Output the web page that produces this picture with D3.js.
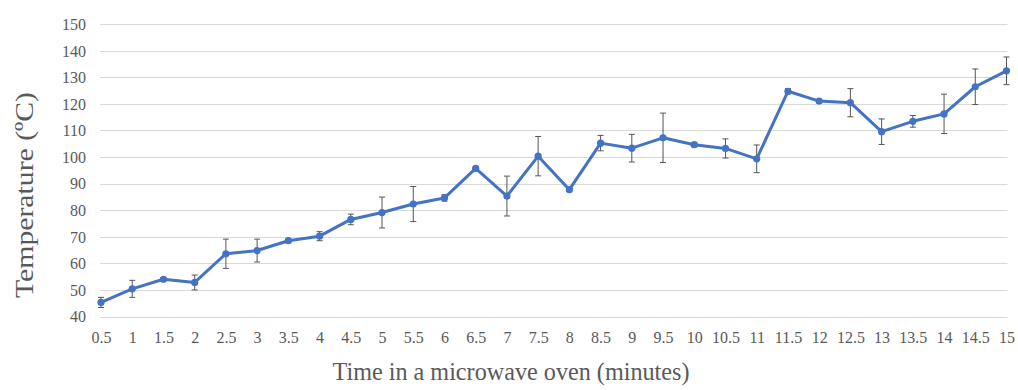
<!DOCTYPE html>
<html>
<head>
<meta charset="utf-8">
<script src="https://cdn.jsdelivr.net/npm/d3@7"></script>
<style>
  html, body { margin: 0; padding: 0; background: #fff; }
  svg { display: block; }
</style>
</head>
<body>
<svg id="chart" width="1018" height="390"></svg>
<script>
const timeLabels = ["0.5","1","1.5","2","2.5","3","3.5","4","4.5","5","5.5","6","6.5","7","7.5","8","8.5","9","9.5","10","10.5","11","11.5","12","12.5","13","13.5","14","14.5","15"];
const temperatures = [45.3, 50.4, 54.0, 52.8, 63.6, 64.8, 68.5, 70.2, 76.5, 79.1, 82.3, 84.6, 95.7, 85.3, 100.3, 87.7, 105.2, 103.3, 107.2, 104.6, 103.2, 99.3, 124.7, 121.0, 120.4, 109.5, 113.4, 116.2, 126.4, 132.4];
const errors = [1.9, 3.2, 0.6, 2.8, 5.5, 4.3, 0.7, 1.7, 2.0, 5.8, 6.6, 1.2, 0.5, 7.5, 7.4, 0.5, 2.9, 5.2, 9.3, 0.8, 3.6, 5.2, 1.0, 0.7, 5.3, 4.8, 2.2, 7.4, 6.7, 5.2];
const yTicks = [40, 50, 60, 70, 80, 90, 100, 110, 120, 130, 140, 150];
const xTitle = "Time in a microwave oven (minutes)";
const yTitle = "Temperature (ºC)";

const svg = d3.select("#chart");
const serif = "'Liberation Serif', 'Times New Roman', serif";
const textColor = "#595959";

const x = d3.scalePoint().domain(timeLabels).range([101, 1006.5]).padding(0);
const y = d3.scaleLinear().domain([40, 150]).range([316.5, 24]);

// gridlines
svg.append("g")
  .selectAll("line")
  .data(yTicks)
  .join("line")
  .attr("x1", 100).attr("x2", 1007.5)
  .attr("y1", d => Math.round(y(d)) + 0.5)
  .attr("y2", d => Math.round(y(d)) + 0.5)
  .attr("stroke", "#d9d9d9")
  .attr("stroke-width", 1);

// y axis labels
const yAxis = d3.axisLeft(y).tickValues(yTicks).tickSize(0).tickPadding(0);
const gy = svg.append("g").attr("transform", "translate(86,0)").call(yAxis);
gy.select(".domain").remove();
gy.selectAll("text")
  .attr("font-family", serif)
  .attr("font-size", 16)
  .attr("fill", textColor)
  .attr("dy", "0.34em");

// x axis labels
const xAxis = d3.axisBottom(x).tickSize(0).tickPadding(0);
const gx = svg.append("g").attr("transform", "translate(0,331)").call(xAxis);
gx.select(".domain").remove();
gx.selectAll("text")
  .attr("font-family", serif)
  .attr("font-size", 16)
  .attr("fill", textColor)
  .attr("dy", "0.75em");

const data = timeLabels.map((t, i) => ({ t, v: temperatures[i], e: errors[i] }));

// error bars
const eb = svg.append("g").attr("stroke", "#555").attr("stroke-width", 1).attr("fill", "none");
data.forEach(d => {
  const cx = x(d.t);
  const y1 = y(d.v + d.e), y2 = y(d.v - d.e);
  eb.append("line").attr("x1", cx).attr("x2", cx).attr("y1", y1).attr("y2", y2);
  eb.append("line").attr("x1", cx - 3).attr("x2", cx + 3).attr("y1", y1).attr("y2", y1);
  eb.append("line").attr("x1", cx - 3).attr("x2", cx + 3).attr("y1", y2).attr("y2", y2);
});

// line
const line = d3.line().x(d => x(d.t)).y(d => y(d.v));
svg.append("path")
  .datum(data)
  .attr("d", line)
  .attr("fill", "none")
  .attr("stroke", "#4472C4")
  .attr("stroke-width", 3)
  .attr("stroke-linejoin", "round");

// markers
svg.append("g")
  .selectAll("circle")
  .data(data)
  .join("circle")
  .attr("cx", d => x(d.t))
  .attr("cy", d => y(d.v))
  .attr("r", 3.6)
  .attr("fill", "#4472C4");

// axis titles
svg.append("text")
  .attr("x", 511).attr("y", 380)
  .attr("text-anchor", "middle")
  .attr("font-family", serif)
  .attr("font-size", 26)
  .attr("fill", textColor)
  .attr("textLength", 357)
  .attr("lengthAdjust", "spacingAndGlyphs")
  .text(xTitle);

svg.append("text")
  .attr("transform", "translate(33,195) rotate(-90)")
  .attr("text-anchor", "middle")
  .attr("font-family", serif)
  .attr("font-size", 26)
  .attr("fill", textColor)
  .attr("textLength", 206)
  .attr("lengthAdjust", "spacingAndGlyphs")
  .text(yTitle);
</script>
</body>
</html>
